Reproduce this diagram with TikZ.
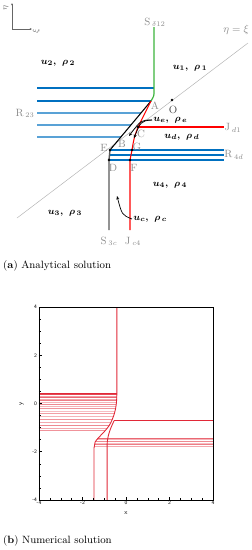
\documentclass[tikz,border=0pt]{standalone}
\usetikzlibrary{arrows.meta, positioning, calc}
\usepackage{amsmath,amssymb}
\definecolor{waveblue}{RGB}{0,112,192}
\definecolor{shockgreen}{RGB}{60,180,60}
\definecolor{numred}{RGB}{225,40,55}

\begin{document}
\begin{tikzpicture}[
    x=0.03cm, y=-0.03cm,
    >=Stealth,
    wave/.style={draw=waveblue, line width=1pt},
    contact/.style={draw=red, line width=0.9pt},
    shockline/.style={draw=black!65, line width=1.2pt},
    diag/.style={draw=black!30, line width=0.4pt},
    state/.style={font=\footnotesize\bfseries\boldmath, inner sep=1pt},
    tag/.style={text=black!45, font=\small, inner sep=1pt},
    jdot/.style={circle, fill=black, inner sep=0pt, minimum size=2.2pt},
    leader/.style={->, semithick, >={Stealth[length=3pt,width=2.5pt]}},
    numline/.style={draw=numred, line width=0.75pt},
    caption/.style={font=\small, anchor=west, inner sep=0pt}
]
\useasboundingbox (0,0) rectangle (252,550);

% ANALYTICAL SOLUTION
% axis sketch
\coordinate (ax0) at (12,29);
\coordinate (axy) at (12,3);
\coordinate (axx) at (32,29);
\draw[black!60, thin, -{Stealth[length=2pt,width=1.6pt]}] (ax0) -- (axy);
\draw[black!60, thin, -{Stealth[length=2pt,width=1.6pt]}] (ax0) -- (axx);
\node[text=black!55, font=\scriptsize, rotate=90] (eta) at (6,8) {$\eta$};
\node[text=black!55, font=\scriptsize, rotate=90] (xi) at (36,31) {$\xi$};

% the points
\coordinate (A) at (151,101);
\coordinate (C) at (138,127);
\coordinate (G) at (132,150);
\coordinate (F) at (130,160);
\coordinate (E) at (110,150);
\coordinate (D) at (109,160);
\coordinate (O) at (172,100);

% symmetry line eta = xi
\coordinate (diag_lo) at (17,218);
\coordinate (diag_hi) at (248,43);
\draw[diag] (diag_lo) -- (diag_hi);

% rarefaction R23
\coordinate (s_top) at (154,27);
\draw[wave] (37,88) -- (154,88);
\draw[wave] (37,101) -- (A);
\foreach \yy in {113,125,137}
    \draw[wave] (37,\yy) -- ($(A)!{(\yy-101)/49}!(E)$);

% rarefaction R4d
\draw[wave] (E) -- (224,150);
\draw[wave] (110,155) -- (224,155);
\draw[wave] (D) -- (224,160);

% shock S_delta12 and S3c
\draw[shockgreen, line width=1pt] (s_top) -- (154,91) .. controls (154,96) .. (A);
\draw[shockline] (E) -- (D) -- (109,230);
\draw[black, line width=0.9pt] (A) -- (E);

% contacts
\draw[contact] (A) -- (C) .. controls (134,138) .. (G) -- (F) -- (130,230);
\draw[contact] (C) -- (224,127);

\foreach \p in {C,G,F,E,D,O}
    \node[jdot] at (\p) {};

% labels
\node[tag] (lbl_s12) at (155,22) {S\,$_{\delta 12}$};
\node[tag] (lbl_eta) at (236,30) {$\eta=\xi$};
\node[tag] (lbl_r23) at (25,113) {R\,$_{23}$};
\node[tag] (lbl_jd1) at (233,128) {J\,$_{d1}$};
\node[tag] (lbl_r4d) at (234,155) {R\,$_{4d}$};
\node[tag] (lbl_s3c) at (109,241) {S\,$_{3c}$};
\node[tag] (lbl_jc4) at (133,241) {J\,$_{c4}$};
\node[tag] (lbl_a) at (155,106) {A};
\node[tag, text=black!70] (lbl_o) at (173,110) {O};
\node[tag] (lbl_b) at (122,144) {B};
\node[tag] (lbl_c) at (141,134) {C};
\node[tag] (lbl_e) at (104,148) {E};
\node[tag] (lbl_g) at (137,147) {G};
\node[tag] (lbl_d) at (113,168) {D};
\node[tag] (lbl_f) at (134,168) {F};

\node[state] (u2) at (58,63) {$u_2,\ \rho_{\,2}$};
\node[state] (u1) at (190,68) {$u_1,\ \rho_{\,1}$};
\node[state, anchor=west] (ue) at (152,120) {$u_e,\ \rho_{\,e}$};
\node[state] (ud) at (182,137) {$u_d,\ \rho_{\,d}$};
\node[state] (u4) at (170,185) {$u_4,\ \rho_{\,4}$};
\node[state] (u3) at (65,213) {$u_3,\ \rho_{\,3}$};
\node[state, anchor=west] (uc) at (132,219) {$u_c,\ \rho_{\,c}$};

\coordinate (ue_tip1) at (129,136);
\coordinate (ue_tip2) at (134,138);
\coordinate (uc_tip) at (117,196);
\draw[leader] (ue.west) .. controls (141,120) .. (ue_tip1);
\draw[leader] (ue.west) .. controls (141,121) .. (ue_tip2);
\draw[leader] (uc.west) .. controls (122,215) .. (uc_tip);

\node[caption] (cap_a) at (3,266) {(\textbf{a}) Analytical solution};

% NUMERICAL SOLUTION
\begin{scope}[shift={(126,403.5)}, x=0.6525cm, y=0.723cm]
    \coordinate (fr_sw) at (-4,-4);
    \coordinate (fr_ne) at (4,4);

    % left rarefaction contours
    \begin{scope}
        \clip (-4,0.6) -- (-0.42,0.6) -- (-0.42,0.45)
            .. controls (-0.42,-0.15) and (-0.52,-0.45) .. (-0.7,-0.8)
            .. controls (-0.9,-1.15) and (-1.3,-1.4) .. (-1.42,-1.6)
            -- (-4,-1.6) -- cycle;
        \foreach \yy/\pc in {0.42/100, 0.36/85, 0.30/45, 0.24/70, 0.18/40,
                0.11/60, 0.04/35, -0.03/55, -0.12/35, -0.22/50,
                -0.32/30, -0.42/45, -0.54/35, -0.66/50, -0.80/40,
                -0.93/55, -1.03/40, -1.12/50}
            \draw[numline, draw=numred!\pc!white] (-4,\yy) -- (0,\yy);
    \end{scope}

    % right rarefaction contours
    \begin{scope}
        \clip (-0.7,-0.8)
            .. controls (-0.9,-1.15) and (-1.3,-1.4) .. (-1.42,-1.6)
            .. controls (-1.47,-1.7) .. (-1.47,-1.85) -- (4,-1.85) -- (4,-0.8) -- cycle;
        \foreach \yy/\pc in {-1.43/70, -1.50/35, -1.57/55, -1.64/30, -1.71/60, -1.77/40}
            \draw[numline, draw=numred!\pc!white] (-1.6,\yy) -- (4,\yy);
    \end{scope}
    \draw[numline] (-0.55,-0.72) -- (4,-0.72);

    % shocks and contacts
    \draw[numline] (-0.42,4) -- (-0.42,0.45)
        .. controls (-0.42,-0.15) and (-0.52,-0.45) .. (-0.7,-0.8)
        .. controls (-0.9,-1.15) and (-1.3,-1.4) .. (-1.42,-1.6)
        .. controls (-1.47,-1.7) .. (-1.47,-1.85) -- (-1.47,-4);
    \draw[numline] (-0.55,-0.72) .. controls (-0.7,-1.0) and (-0.87,-1.35) .. (-0.87,-1.75) -- (-0.87,-4);

    % frame and ticks
    \draw[black, line width=0.6pt] (fr_sw) rectangle (fr_ne);
    \foreach \t in {-4,-2,...,4} {
        \draw[line width=0.6pt] (\t,-4) -- ++(0,0.1cm);
        \draw[line width=0.6pt] (-4,\t) -- ++(0.1cm,0);
        \node[font=\fontsize{4.5}{5}\selectfont\sffamily, anchor=north, inner sep=1pt] (xt\t) at (\t,-4) {\t};
        \node[font=\fontsize{4.5}{5}\selectfont\sffamily, anchor=east, inner sep=1.5pt] (yt\t) at (-4,\t) {\t};
    }
    \foreach \t in {-3.5,-3,...,3.5} {
        \draw[line width=0.4pt] (\t,-4) -- ++(0,0.05cm);
        \draw[line width=0.4pt] (-4,\t) -- ++(0.05cm,0);
    }
    \node[font=\fontsize{5.5}{6}\selectfont\sffamily] (xlab) at (0,-4.55) {x};
    \node[font=\fontsize{5.5}{6}\selectfont\sffamily, rotate=90] (ylab) at (-4.8,0) {y};
\end{scope}

\node[caption] (cap_b) at (3,541) {(\textbf{b}) Numerical solution};

\end{tikzpicture}
\end{document}
